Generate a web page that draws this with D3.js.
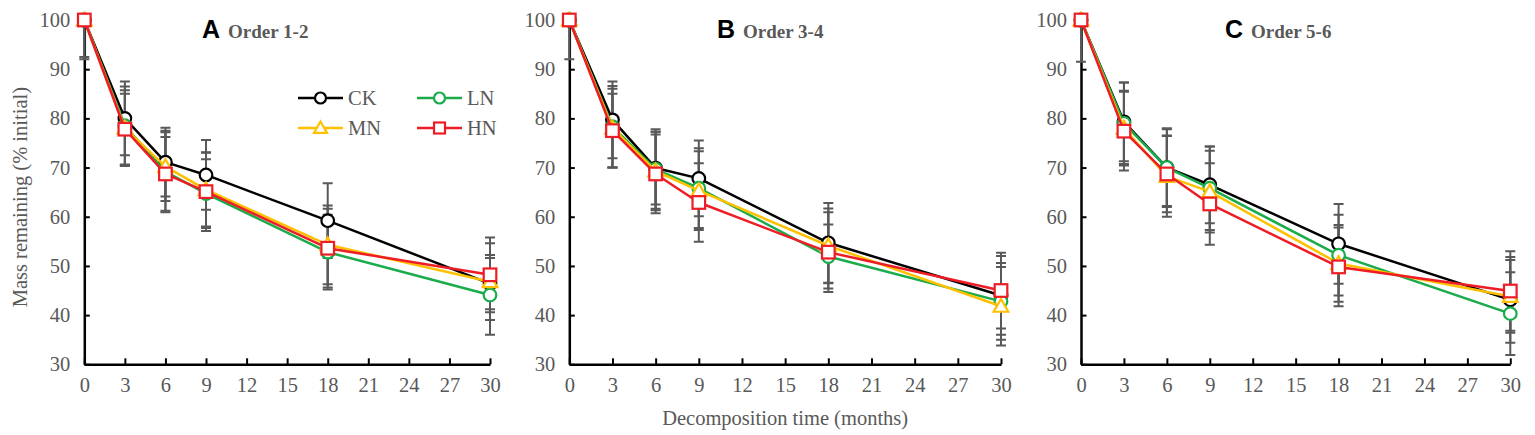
<!DOCTYPE html>
<html>
<head>
<meta charset="utf-8">
<script src="https://cdn.jsdelivr.net/npm/d3@7"></script>
<style>
  body { margin: 0; background: #fff; }
</style>
</head>
<body>
<svg class="visSVG"></svg>
<script>
const svgWidth = 1535;
const svgHeight = 435;

// data
const months = [0, 3, 6, 9, 18, 30];
const seriesNames = ["CK", "LN", "MN", "HN"];
const panelLetters = ["A", "B", "C"];
const panelTitles = ["Order 1-2", "Order 3-4", "Order 5-6"];
const xTicks = [0, 3, 6, 9, 12, 15, 18, 21, 24, 27, 30];
const yTicks = [30, 40, 50, 60, 70, 80, 90, 100];

// mass remaining (% initial), per panel, per series (CK, LN, MN, HN)
const meanA = [
    [100, 80.0, 71.1, 68.5, 59.2, 46.4],
    [100, 78.5, 69.2, 64.7, 52.8, 44.1],
    [100, 78.0, 70.2, 65.5, 54.3, 46.8],
    [100, 77.8, 68.7, 65.1, 53.6, 48.2]
];
const errA = [
    [0, 7.5, 7.0, 7.1, 7.6, 5.2],
    [7.5, 8.0, 8.3, 7.0, 7.6, 8.1],
    [8.0, 7.7, 7.0, 7.5, 8.0, 7.8],
    [0, 7.2, 7.5, 8.0, 8.0, 7.6]
];
const meanB = [
    [100, 79.7, 69.9, 67.8, 54.7, 44.0],
    [100, 78.3, 69.7, 65.8, 51.9, 42.8],
    [100, 78.0, 69.3, 65.3, 54.1, 41.8],
    [100, 77.5, 68.7, 62.9, 52.8, 45.0]
];
const errB = [
    [0, 7.8, 7.4, 7.7, 8.1, 8.0],
    [8.0, 8.3, 8.1, 8.1, 6.5, 7.8],
    [0, 8.0, 8.0, 8.0, 7.6, 8.0],
    [0, 7.5, 8.0, 8.0, 8.1, 7.7]
];
const meanC = [
    [100, 79.3, 70.0, 66.5, 54.5, 43.1],
    [100, 79.0, 70.0, 65.8, 52.2, 40.3],
    [100, 78.0, 68.2, 65.1, 50.5, 43.8],
    [100, 77.4, 68.7, 62.6, 49.8, 44.9]
];
const errC = [
    [0, 8.0, 7.8, 7.8, 8.1, 8.7],
    [8.5, 8.3, 8.0, 8.5, 8.2, 8.4],
    [0, 7.6, 8.2, 8.3, 7.8, 7.4],
    [0, 8.0, 7.8, 8.3, 8.0, 8.1]
];

// styles
var colours = ["#000000", "#1aab4b", "#ffc000", "#ee1c25"];
var markerShapes = ["circle", "circle", "triangle", "square"];
var greyText = "#595959";
var serif = "'Liberation Serif', 'Times New Roman', serif";
var textSize = "20.5px";

// panel layout (pixels)
var panels = [
    { x0: 84.3, x1: 490, titleX: 202, mean: meanA, err: errA },
    { x0: 569.3, x1: 1001, titleX: 717, mean: meanB, err: errB },
    { x0: 1081, x1: 1510.3, titleX: 1225, mean: meanC, err: errC }
];
var plotTop = 20;
var plotBottom = 364.3;

const svg = d3.select('.visSVG')
    .attr("width", svgWidth)
    .attr("height", svgHeight);

const yScale = d3.scaleLinear()
    .domain([30, 100])
    .range([plotBottom, plotTop]);

svg.append("defs").append("clipPath")
    .attr("id", "plotClip")
    .append("rect")
        .attr("x", 0)
        .attr("y", plotTop)
        .attr("width", svgWidth)
        .attr("height", plotBottom - plotTop);

// size: half-width of the marker
function drawMarker(g, shape, cx, cy, colour, size) {
    if (shape == "circle") {
        g.append("circle")
            .attr("cx", cx).attr("cy", cy).attr("r", size)
            .attr("fill", "#fff").attr("stroke", colour).attr("stroke-width", 2.2);
    } else if (shape == "square") {
        g.append("rect")
            .attr("x", cx - size).attr("y", cy - size).attr("width", size * 2).attr("height", size * 2)
            .attr("fill", "#fff").attr("stroke", colour).attr("stroke-width", 2.2);
    } else {
        var h = size + 1;
        g.append("path")
            .attr("d", "M" + cx + "," + (cy - h) + "L" + (cx + h) + "," + (cy + h * 0.75) + "L" + (cx - h) + "," + (cy + h * 0.75) + "Z")
            .attr("fill", "#fff").attr("stroke", colour).attr("stroke-width", 2.2);
    }
}

function styleAxis(ax) {
    ax.attr("font-family", serif).attr("font-size", textSize);
    ax.select(".domain").attr("stroke", "#000").attr("stroke-width", 2.5);
    ax.selectAll(".tick line").attr("stroke", "#000").attr("stroke-width", 2);
    ax.selectAll(".tick text")
        .attr("fill", greyText)
        .attr("font-family", serif)
        .attr("font-size", textSize);
}

panels.forEach(function(p, pi) {
    var xScale = d3.scaleLinear()
        .domain([0, 30])
        .range([p.x0, p.x1]);

    var graph = svg.append("g");

    // Y AXIS
    var yAxis = graph.append("g")
        .attr("transform", "translate(" + p.x0 + ",0)")
        .call(d3.axisLeft(yScale).tickValues(yTicks).tickSizeInner(-5.5).tickSizeOuter(0).tickPadding(14));
    styleAxis(yAxis);

    // X AXIS
    var xAxis = graph.append("g")
        .attr("transform", "translate(0," + plotBottom + ")")
        .call(d3.axisBottom(xScale).tickValues(xTicks).tickSizeInner(-6).tickSizeOuter(0).tickPadding(13));
    styleAxis(xAxis);

    // ERROR BARS
    var errGroup = graph.append("g").attr("clip-path", "url(#plotClip)");
    seriesNames.forEach(function(name, si) {
        months.forEach(function(m, mi) {
            var e = p.err[si][mi];
            if (e <= 0) return;
            var v = p.mean[si][mi];
            var cx = xScale(m);
            errGroup.append("line")
                .attr("x1", cx).attr("x2", cx)
                .attr("y1", yScale(v + e)).attr("y2", yScale(v - e))
                .attr("stroke", "#595959").attr("stroke-width", 2);
            [v + e, v - e].forEach(function(cap) {
                errGroup.append("line")
                    .attr("x1", cx - 5).attr("x2", cx + 5)
                    .attr("y1", yScale(cap)).attr("y2", yScale(cap))
                    .attr("stroke", "#595959").attr("stroke-width", 2);
            });
        });
    });

    // LINES + MARKERS
    var line = d3.line()
        .x(function(d) { return xScale(d[0]); })
        .y(function(d) { return yScale(d[1]); });

    seriesNames.forEach(function(name, si) {
        var pts = months.map(function(m, mi) { return [m, p.mean[si][mi]]; });
        graph.append("path")
            .datum(pts)
            .attr("d", line)
            .attr("fill", "none")
            .attr("stroke", colours[si])
            .attr("stroke-width", 2.5)
            .attr("stroke-linejoin", "round");
        var mg = graph.append("g");
        pts.forEach(function(d) {
            drawMarker(mg, markerShapes[si], xScale(d[0]), yScale(d[1]), colours[si], 6.3);
        });
    });

    // TITLE
    var title = graph.append("text")
        .attr("x", p.titleX)
        .attr("y", 38);
    title.append("tspan")
        .text(panelLetters[pi])
        .attr("font-family", "'Liberation Sans', Arial, sans-serif")
        .attr("font-weight", "bold")
        .attr("font-size", "25px")
        .attr("fill", "#000");
    title.append("tspan")
        .text(panelTitles[pi])
        .attr("dx", 8)
        .attr("font-family", serif)
        .attr("font-weight", "bold")
        .attr("font-size", "19px")
        .attr("fill", greyText);

    // LEGEND (first panel only)
    if (pi == 0) {
        var legend = graph.append("g");
        var legendPos = [[298, 98], [417, 98], [298, 128], [417, 128]];
        seriesNames.forEach(function(name, si) {
            var lx = legendPos[si][0], ly = legendPos[si][1];
            legend.append("line")
                .attr("x1", lx).attr("x2", lx + 45)
                .attr("y1", ly).attr("y2", ly)
                .attr("stroke", colours[si]).attr("stroke-width", 2.5);
            drawMarker(legend, markerShapes[si], lx + 22.5, ly, colours[si], 5.5);
            legend.append("text")
                .text(name)
                .attr("x", lx + 50)
                .attr("y", ly)
                .attr("dy", "0.35em")
                .attr("font-family", serif)
                .attr("font-size", textSize)
                .attr("fill", greyText);
        });
    }
});

// axis labels
svg.append("text")
    .text("Mass remaining (% initial)")
    .attr("font-family", serif)
    .attr("font-size", textSize)
    .attr("fill", greyText)
    .attr("text-anchor", "middle")
    .attr("transform", "translate(27," + ((plotTop + plotBottom) / 2 + 5) + ") rotate(-90)");

svg.append("text")
    .text("Decomposition time (months)")
    .attr("font-family", serif)
    .attr("font-size", textSize)
    .attr("fill", greyText)
    .attr("text-anchor", "middle")
    .attr("x", (panels[1].x0 + panels[1].x1) / 2)
    .attr("y", 425);
</script>
</body>
</html>
